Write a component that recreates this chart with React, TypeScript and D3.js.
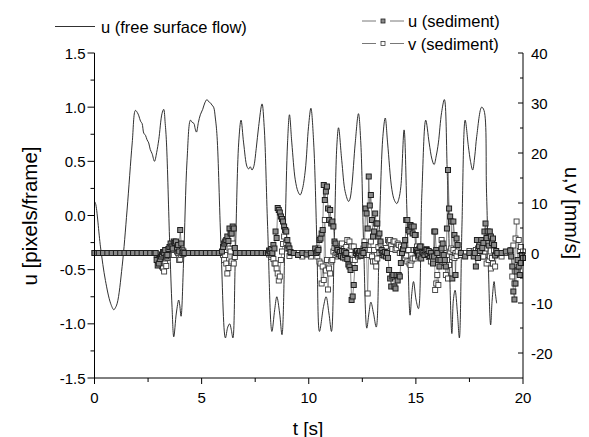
import React from "react";
import * as d3 from "d3";

// ---- free surface flow (left axis, pixels/frame) ----
const lineT = [0.0,0.05,0.28,0.51,0.75,0.9,0.95,1.06,1.29,1.52,1.76,1.91,2.0,2.07,2.15,2.22,2.3,2.38,2.45,2.53,2.6,2.69,2.8,2.9,3.0,3.15,3.23,3.3,3.36,3.51,3.62,3.7,3.82,3.93,3.98,4.04,4.16,4.32,4.48,4.56,4.64,4.7,4.76,4.85,4.94,5.05,5.15,5.25,5.33,5.41,5.48,5.56,5.64,5.72,5.9,6.11,6.22,6.31,6.38,6.46,6.57,6.73,6.84,6.96,7.12,7.2,7.27,7.35,7.43,7.55,7.66,7.82,7.92,8.08,8.28,8.41,8.51,8.64,8.75,8.9,9.01,9.1,9.21,9.37,9.5,9.6,9.7,9.84,9.99,10.1,10.23,10.38,10.5,10.69,10.81,10.94,11.06,11.19,11.31,11.39,11.54,11.7,11.86,11.92,12.01,12.17,12.32,12.43,12.56,12.71,12.81,12.9,13.02,13.15,13.3,13.46,13.57,13.68,13.88,14.0,14.11,14.2,14.3,14.45,14.58,14.73,14.81,14.89,15.01,15.12,15.28,15.46,15.62,15.75,15.85,15.95,16.05,16.2,16.33,16.47,16.68,16.75,16.83,16.94,17.03,17.15,17.3,17.45,17.55,17.65,17.75,17.84,18.07,18.18,18.3,18.49,18.56,18.65,18.71,18.77];
const lineU = [0.13,0.11,-0.29,-0.6,-0.81,-0.87,-0.86,-0.81,-0.47,0.05,0.67,0.97,0.95,0.92,0.87,0.85,0.76,0.74,0.7,0.67,0.61,0.57,0.5,0.58,0.7,0.94,0.98,0.85,0.67,-0.26,-0.85,-1.12,-0.9,-0.78,-0.83,-0.93,-0.41,0.51,0.88,0.86,0.85,0.8,0.77,0.86,0.93,0.98,1.04,1.07,1.05,1.04,1.02,1.0,0.9,0.73,-0.26,-1.13,-1.03,-1.0,-1.05,-1.13,-0.41,0.67,0.88,0.67,0.45,0.43,0.45,0.42,0.45,0.62,0.82,1.03,0.82,-0.1,-1.07,-0.87,-0.75,-0.9,-1.1,-0.1,0.67,0.93,0.67,0.33,0.22,0.19,0.24,0.42,0.82,0.99,0.67,-0.26,-1.07,-0.84,-0.75,-0.9,-1.07,-0.26,0.64,0.81,0.51,0.22,0.13,0.15,0.27,0.67,0.94,0.67,-0.26,-1.04,-0.9,-0.8,-0.9,-1.03,-0.1,0.73,0.9,0.67,0.24,0.14,0.11,0.15,0.27,0.79,0.05,-0.92,-0.72,-0.61,-0.78,-0.86,0.2,0.88,0.67,0.52,0.47,0.55,0.67,0.95,1.07,0.36,-1.09,-0.78,-0.69,-0.9,-1.13,-0.1,0.88,0.64,0.5,0.42,0.55,0.73,1.0,0.97,0.2,-1.01,-0.78,-0.61,-0.72,-0.81];

// ---- sediment (right axis, mm/s) ----
const sedT = [
  0,0.2,0.4,0.6,0.8,1.0,1.2,1.4,1.6,1.8,2.0,2.2,2.4,2.6,2.8,
  2.85,2.9,2.95,3.0,3.05,3.1,3.15,3.2,3.25,3.3,3.35,3.4,3.45,3.5,3.55,3.6,3.65,3.7,3.75,3.8,3.85,3.9,3.95,4.0,4.05,4.1,4.15,4.2,
  4.4,4.6,4.8,5.0,5.2,5.4,5.6,5.8,
  5.95,6.0,6.05,6.1,6.15,6.2,6.25,6.3,6.35,6.4,6.45,6.5,6.55,6.6,
  6.8,7.0,7.2,7.4,7.6,7.8,8.0,
  8.1,8.15,8.2,8.25,8.3,8.35,8.4,8.45,8.5,8.55,8.6,8.65,8.7,8.75,8.8,8.85,8.9,8.95,9.0,9.05,9.1,9.15,
  9.3,9.5,9.7,9.9,10.1,10.3,
  10.35,10.4,10.45,10.5,10.55,10.6,10.65,10.7,10.75,10.8,
  10.85,10.9,10.95,11.0,11.05,11.1,11.15,11.2,11.25,11.3,
  11.35,11.4,11.45,11.5,11.55,11.6,11.65,11.7,11.75,11.8,
  11.85,11.9,11.95,12.0,12.05,12.1,12.15,12.2,12.25,12.3,
  12.35,12.4,12.45,12.5,12.55,12.6,12.65,12.7,12.75,12.8,
  12.85,12.9,12.95,13.0,13.05,13.1,13.15,13.2,13.25,13.3,
  13.35,13.4,13.45,13.5,13.55,13.6,13.65,13.7,13.75,13.8,
  13.85,13.9,13.95,14.0,14.05,14.1,14.15,14.2,14.25,14.3,
  14.35,14.4,14.45,14.5,14.55,14.6,14.65,14.7,14.75,14.8,
  14.85,14.9,14.95,15.0,15.05,15.1,15.15,15.2,15.25,15.3,
  15.35,15.4,15.45,15.5,15.55,15.6,15.65,15.7,15.75,15.8,
  15.85,15.9,15.95,16.0,16.05,16.1,16.15,16.2,16.25,16.3,
  16.35,16.4,16.45,16.5,16.55,16.6,16.65,16.7,16.75,16.8,
  16.85,16.9,16.95,
  17.1,17.3,17.5,
  17.7,17.75,17.8,17.85,17.9,17.95,18.0,18.05,18.1,18.15,18.2,18.25,18.3,18.35,18.4,18.45,18.5,18.55,18.6,18.65,18.7,18.75,18.8,
  19.0,19.2,
  19.4,19.45,19.5,19.55,19.6,19.65,19.7,19.75,19.8,19.85,19.9,19.95,20.0,
];
const sedU = [
  0,0,0,0,0,0,0,0,0,0,0,0,0,0,0,
  0.0,-1.4,-2.5,-2.1,-1.2,-0.7,-0.3,0.2,0.0,0.6,-0.7,-0.4,0.8,1.2,1.9,1.3,0.9,2.3,2.0,2.3,1.1,1.6,0.3,4.6,1.9,0.0,0.3,0.0,
  0,0,0,0,0,0,0,0,
  0.3,1.2,1.9,2.3,2.6,3.3,2.4,4.9,3.9,3.9,5.3,4.9,1.0,0.0,
  0,0,0,0,0,0,0,
  0.0,0.5,0.3,0.8,0.0,1.6,0.9,4.3,3.0,9.0,8.6,8.1,7.3,6.8,6.3,5.3,4.6,4.3,2.6,1.5,0.9,0.2,
  0,-0.4,0,-0.3,0,0.9,
  0.0,0.3,0.6,2.6,2.9,3.9,4.6,13.6,10.6,12.3,
  13.3,8.9,6.6,8.6,5.9,6.3,5.3,2.3,1.9,0.9,
  0.6,-0.3,0.2,-0.6,0.4,-0.9,0.3,-0.4,0.0,-1.2,
  -2.3,-2.7,-3.4,-9.4,-8.7,-6.4,-3.0,0.0,0.4,-0.3,
  0.0,0.4,-0.5,0.3,0.0,1.6,8.9,7.9,4.9,15.3,
  9.5,11.6,6.6,3.3,4.3,7.9,5.9,5.9,3.3,3.9,
  2.3,0.6,0.0,-0.5,0.2,-0.7,0.0,-1.0,-3.4,-5.1,
  -6.7,-4.7,-4.4,-6.7,-7.1,-4.4,-5.5,-4.4,-4.7,-2.0,
  0.0,0.8,1.5,2.6,6.6,6.6,4.6,4.3,5.6,5.3,
  3.9,5.3,3.6,0.6,0.3,0.0,-0.5,1.3,-1.1,0.2,
  0.0,-0.4,0.3,0.6,-0.2,0.4,-0.6,0.0,-0.7,-2.1,
  -0.7,4.3,0.6,0.0,-1.4,-2.7,-1.4,0.9,1.9,-0.4,
  -1.4,-2.7,4.9,16.6,8.9,7.3,6.3,-5.1,6.3,3.6,
  -4.4,2.9,1.6,
  0,-0.7,0,
  -0.7,0.0,-2.7,2.6,-1.0,1.3,0.4,2.6,1.0,2.0,4.3,5.9,3.0,4.3,1.5,4.3,3.3,2.0,2.9,1.6,-0.5,0.4,0.0,
  0,0.3,
  0.5,-0.7,-2.7,-7.7,-9.3,-6.1,-3.7,-1.4,-2.7,-4.4,-2.0,-0.4,-1.0,
];
const sedV = [
  0,0,0,0,0,0,0,0,0,0,0,0,0,0,0,
  0.0,-0.3,-0.8,-1.2,-1.7,-1.7,-2.7,-3.0,-3.7,-2.1,-2.6,-1.0,0.3,-0.2,0.4,0.7,-0.4,-0.4,1.3,1.0,0.3,0.0,-1.4,-1.3,-0.4,0.6,-0.2,0.0,
  0,0,0,0,0,0,0,0,
  0.0,-0.4,-1.4,-0.4,-2.1,-4.1,-3.0,0.9,0.3,-1.7,1.9,-2.1,-0.8,0.0,
  0,0,0,0,0,0,0,
  0.0,-0.3,0.2,-0.8,-0.4,-1.2,-2.1,-2.1,-3.1,-4.1,-5.5,-4.7,-1.4,0.3,1.8,3.3,4.6,2.0,0.9,1.0,-0.6,0.0,
  0,0,-0.7,0,-0.7,0,
  0.0,-0.7,0.9,-1.7,-2.1,-6.1,-2.7,-5.4,6.6,-3.5,
  -1.4,-7.3,-3.1,-4.1,-1.7,-1.4,0.3,1.0,-0.4,0.0,
  -0.7,0.6,1.3,0.4,1.9,-0.5,0.8,-1.1,1.2,2.6,
  -1.1,2.3,0.6,1.3,-1.4,1.3,-1.4,0.3,-0.4,-0.7,
  0.3,-0.6,0.4,-0.2,0.9,2.3,1.6,-0.4,-8.1,-0.4,
  0.6,2.3,-0.7,-1.7,0.6,-1.7,-2.7,-1.1,1.2,0.0,
  1.9,0.0,-0.4,0.5,0.0,1.0,0.3,2.6,2.3,2.6,
  1.5,0.8,2.3,2.3,0.6,0.9,1.9,1.6,0.0,1.3,
  0.0,0.4,-1.1,-1.1,-0.5,-1.7,0.6,-2.1,-2.4,-1.5,
  -1.1,0.6,-1.1,3.6,1.3,-0.7,0.9,-0.3,1.3,0.4,
  0.5,-0.4,0.0,0.8,0.3,-0.8,0.2,-1.7,-0.5,-1.2,
  4.3,-7.4,-6.1,-4.4,-6.4,-1.4,0.6,2.6,-0.4,1.0,
  -2.0,-4.4,-1.4,-5.1,-2.4,0.3,0.9,-0.8,0.6,-1.0,
  0.0,-0.6,0.3,
  -0.4,0,0.4,
  0.3,-0.5,0.6,-0.2,0.9,-0.6,0.4,1.2,-0.7,-0.7,0.3,0.9,-2.1,1.9,-1.4,-0.7,-3.1,-1.0,-2.1,0.5,-2.7,-0.3,0.0,
  -0.7,0,
  0.0,0.6,-4.7,1.5,-6.1,2.9,6.3,-3.4,2.6,0.4,1.2,-0.8,0.3,
];

const xTicks = [0, 5, 10, 15, 20];
const xMinor = [2.5, 7.5, 12.5, 17.5];
const yLTicks = [-1.5, -1.0, -0.5, 0.0, 0.5, 1.0, 1.5];
const yLMinor = [-1.25, -0.75, -0.25, 0.25, 0.75, 1.25];
const yRTicks = [-20, -10, 0, 10, 20, 30, 40];
const yRMinor = [-15, -5, 5, 15, 25, 35];

const FONT = "'Liberation Sans', Arial, Helvetica, sans-serif";

export default function App() {
  const W = 589, H = 437;
  const x = d3.scaleLinear().domain([0, 20]).range([94.5, 523]);
  const yL = d3.scaleLinear().domain([-1.5, 1.5]).range([378, 53]);
  const yR = d3.scaleLinear().domain([-25, 40]).range([378, 53]);

  const linePts = lineT.map((t, i) => [t, lineU[i]] as [number, number]);
  const lineGen = d3.line<[number, number]>()
    .x(d => x(d[0])).y(d => yL(d[1]))
    .curve(d3.curveCatmullRom.alpha(0.5));

  const n = Math.min(sedT.length, sedU.length, sedV.length);
  const uPts = d3.range(n).map(i => [sedT[i], sedU[i]] as [number, number]);
  const vPts = d3.range(n).map(i => [sedT[i], sedV[i]] as [number, number]);
  const sedLine = d3.line<[number, number]>().x(d => x(d[0])).y(d => yR(d[1]));

  const ms = 5;
  const axisBottom = 378;
  const xL = 94.5, xR = 523;

  return (
    <svg width={W} height={H} style={{ position: "absolute", left: 0, top: 0, background: "#fff" }} fontFamily={FONT}>
      <rect x={0} y={0} width={W} height={H} fill="#fff" />
      {/* free surface line */}
      <path d={lineGen(linePts) || ""} fill="none" stroke="#1a1a1a" strokeWidth={0.9} />
      {/* sediment connecting lines */}
      <path d={sedLine(vPts) || ""} fill="none" stroke="#777" strokeWidth={0.7} />
      <path d={sedLine(uPts) || ""} fill="none" stroke="#555" strokeWidth={0.7} />
      {vPts.map((d, i) => (
        <rect key={"v" + i} x={x(d[0]) - ms / 2} y={yR(d[1]) - ms / 2} width={ms} height={ms}
          fill="#fff" stroke="#3a3a3a" strokeWidth={0.9} />
      ))}
      {uPts.map((d, i) => (
        <rect key={"u" + i} x={x(d[0]) - ms / 2} y={yR(d[1]) - ms / 2} width={ms} height={ms}
          fill="#8a8a8a" stroke="#1e1e1e" strokeWidth={1} />
      ))}

      {/* axes */}
      <g stroke="#000" strokeWidth={1} fill="none">
        <line x1={xL} y1={53} x2={xL} y2={axisBottom} />
        <line x1={xR} y1={53} x2={xR} y2={axisBottom} />
        <line x1={xL} y1={axisBottom} x2={xR} y2={axisBottom} />
        {yLTicks.map(v => <line key={"lt" + v} x1={xL - 7} x2={xL} y1={yL(v)} y2={yL(v)} />)}
        {yLMinor.map(v => <line key={"lm" + v} x1={xL - 4} x2={xL} y1={yL(v)} y2={yL(v)} />)}
        {yRTicks.map(v => <line key={"rt" + v} x1={xR - 5} x2={xR} y1={yR(v)} y2={yR(v)} />)}
        {yRMinor.map(v => <line key={"rm" + v} x1={xR - 3} x2={xR} y1={yR(v)} y2={yR(v)} />)}
        {xTicks.map(v => <line key={"xt" + v} x1={x(v)} x2={x(v)} y1={axisBottom} y2={axisBottom + 6} />)}
        {xMinor.map(v => <line key={"xm" + v} x1={x(v)} x2={x(v)} y1={axisBottom} y2={axisBottom + 4} />)}
      </g>
      <g fontSize={15} fill="#000">
        {yLTicks.map(v => (
          <text key={"ltl" + v} x={xL - 9} y={yL(v)} textAnchor="end" dominantBaseline="central">{v.toFixed(1)}</text>
        ))}
        {yRTicks.map(v => (
          <text key={"rtl" + v} x={xR + 8} y={yR(v)} textAnchor="start" dominantBaseline="central">{String(v)}</text>
        ))}
        {xTicks.map(v => (
          <text key={"xtl" + v} x={x(v)} y={397} textAnchor="middle" dominantBaseline="central">{String(v)}</text>
        ))}
      </g>
      {/* axis titles */}
      <text x={29} y={216} fontSize={20.5} textAnchor="middle" dominantBaseline="central" transform="rotate(-90, 29, 216)">u [pixels/frame]</text>
      <text x={572} y={213} fontSize={20} textAnchor="middle" dominantBaseline="central" transform="rotate(90, 572, 213)">u,v [mm/s]</text>
      <text x={308} y={428} fontSize={19} textAnchor="middle" dominantBaseline="central">t [s]</text>

      {/* legends */}
      <line x1={55} x2={95} y1={26.5} y2={26.5} stroke="#1a1a1a" strokeWidth={0.9} />
      <text x={101} y={27} fontSize={16.5} dominantBaseline="central">u (free surface flow)</text>

      <line x1={362} x2={376} y1={21} y2={21} stroke="#555" strokeWidth={0.8} />
      <line x1={390} x2={404} y1={21} y2={21} stroke="#555" strokeWidth={0.8} />
      <rect x={381} y={19} width={4} height={4} fill="#8a8a8a" stroke="#1e1e1e" strokeWidth={0.8} />
      <text x={408} y={21} fontSize={16.5} dominantBaseline="central">u (sediment)</text>

      <line x1={362} x2={376} y1={43.5} y2={43.5} stroke="#555" strokeWidth={0.8} />
      <line x1={390} x2={404} y1={43.5} y2={43.5} stroke="#555" strokeWidth={0.8} />
      <rect x={381} y={41.5} width={4} height={4} fill="#fff" stroke="#3a3a3a" strokeWidth={0.8} />
      <text x={408} y={43.5} fontSize={16.5} dominantBaseline="central">v (sediment)</text>
    </svg>
  );
}
